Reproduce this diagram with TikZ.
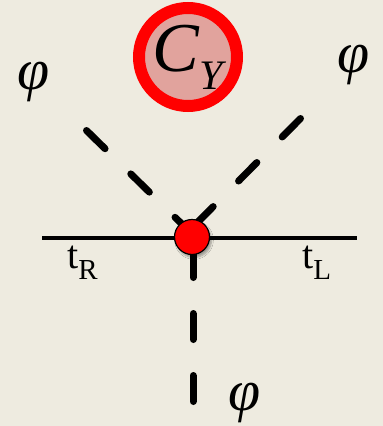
\documentclass[tikz,border=0pt]{standalone}
\usepackage{fontspec}
\setmainfont{Liberation Serif}
\usetikzlibrary{shadows.blur}
\definecolor{bg}{RGB}{238,235,224}
\definecolor{ringred}{RGB}{255,0,0}
\definecolor{pinkfill}{RGB}{225,163,157}
\tikzset{
  dashline/.style={line width=7pt, line cap=round, dash pattern=on 26pt off 36pt, black},
  solidline/.style={line width=4pt, black},
  phi/.style={inner sep=0pt, font=\fontsize{58}{58}\selectfont\itshape},
  lab/.style={inner sep=0pt, font=\fontsize{40}{40}\selectfont},
  bigcircle/.style={circle, draw=ringred, line width=12pt, fill=pinkfill, minimum size=98pt, inner sep=0pt,
     blur shadow={shadow xshift=2pt, shadow yshift=-3pt, shadow blur steps=6, shadow opacity=35}},
  vdot/.style={circle, draw=black, line width=1.2pt, fill=ringred, minimum size=35pt, inner sep=0pt,
     blur shadow={shadow xshift=2pt, shadow yshift=-3pt, shadow blur steps=5, shadow opacity=35}}
}
\begin{document}
\begin{tikzpicture}[x=1pt,y=-1pt]
\fill[bg] (0,0) rectangle (383,426);
\useasboundingbox (0,0) rectangle (383,426);
% coordinates
\coordinate (hl) at (42,238);
\coordinate (hr) at (357,238);
\coordinate (v) at (189,231);
\coordinate (a1) at (86.5,130.5);
\coordinate (a2) at (300.5,118.5);
\coordinate (b) at (193,401.5);
\coordinate (dc) at (193,237);
% lines
\draw[solidline] (hl) -- (hr);
\draw[dashline] (a1) -- (v);
\draw[dashline] (a2) -- (v);
\draw[dashline] (b) -- (dc);
% vertex
\node[vdot] (dot) at (192,237) {};
% C_Y circle
\node[bigcircle] (cy) at (188,57) {\fontsize{70}{70}\selectfont\itshape C\raisebox{-18pt}{\fontsize{42}{42}\selectfont Y}};
% labels
\node[phi] (p1) at (34,82) {φ};
\node[phi] (p2) at (354,65) {φ};
\node[phi] (p3) at (245,403) {φ};
\node[lab, anchor=base west] (tr) at (67,268) {t\raisebox{-11pt}{\fontsize{29}{29}\selectfont R}};
\node[lab, anchor=base west] (tl) at (302,268) {t\raisebox{-11pt}{\fontsize{29}{29}\selectfont L}};
\end{tikzpicture}
\end{document}
